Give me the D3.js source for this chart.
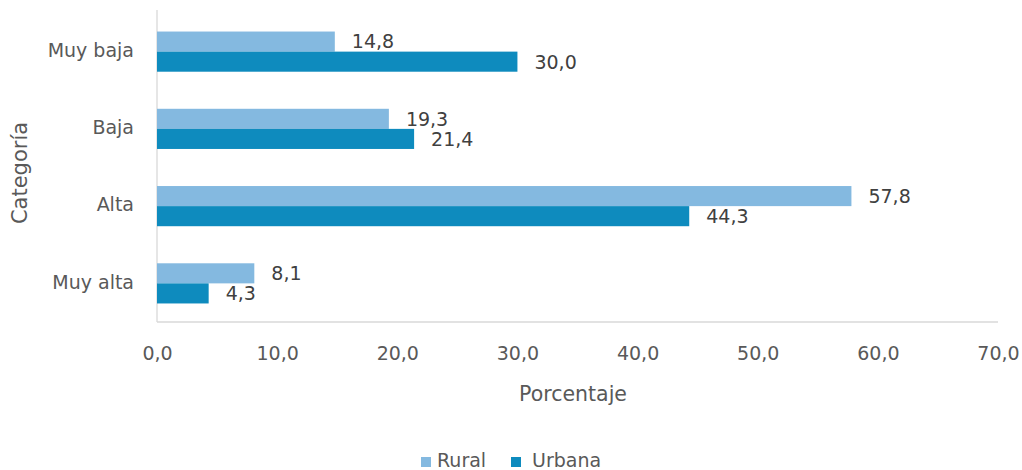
<!DOCTYPE html>
<html>
<head>
<meta charset="utf-8">
<script src="https://cdn.jsdelivr.net/npm/d3@7"></script>
<style>
  html, body { margin: 0; padding: 0; background: #fff; }
  svg { display: block; font-family: "DejaVu Sans", sans-serif; }
</style>
</head>
<body>
<svg id="chart" width="1022" height="470"></svg>
<script>
// Data
const categories = ["Muy baja", "Baja", "Alta", "Muy alta"];
const seriesNames = ["Rural", "Urbana"];
const rural = [14.8, 19.3, 57.8, 8.1];
const urbana = [30.0, 21.4, 44.3, 4.3];
const xTicks = [0, 10, 20, 30, 40, 50, 60, 70];

const colors = { Rural: "#84b9e0", Urbana: "#0e8bbe" };
const textColor = "#595959";
const fontSize = 19;
const fmt = v => d3.format(".1f")(v).replace(".", ",");

const svg = d3.select("#chart");
const plotTop = 13, plotBottom = 322;

const x = d3.scaleLinear().domain([0, 70]).range([157, 998]);
const y = d3.scaleBand().domain(categories).range([plotTop, plotBottom]).paddingInner(0.48).paddingOuter(0.24);
const ySub = d3.scaleBand().domain(seriesNames).range([0, y.bandwidth()]);

// Axis lines
svg.append("line")
  .attr("x1", x(0)).attr("x2", x(0))
  .attr("y1", plotTop - 3).attr("y2", plotBottom)
  .attr("stroke", "#d9d9d9").attr("stroke-width", 1.3);
svg.append("line")
  .attr("x1", x(0)).attr("x2", x(70))
  .attr("y1", plotBottom).attr("y2", plotBottom)
  .attr("stroke", "#d9d9d9").attr("stroke-width", 1.3);

// X tick labels
const xAxis = d3.axisBottom(x).tickValues(xTicks).tickFormat(fmt).tickSize(0).tickPadding(0);
const gx = svg.append("g").attr("transform", "translate(0,360)").call(xAxis);
gx.select(".domain").remove();
gx.selectAll("text").attr("font-size", fontSize).attr("fill", textColor).attr("dy", 0)
  .attr("font-family", "'DejaVu Sans', sans-serif");

// Y tick labels
const yAxis = d3.axisLeft(y).tickSize(0).tickPadding(0);
const gy = svg.append("g").attr("transform", "translate(134,0)").call(yAxis);
gy.select(".domain").remove();
gy.selectAll("text").attr("font-size", fontSize).attr("fill", textColor).attr("dy", "0.27em")
  .attr("font-family", "'DejaVu Sans', sans-serif");

// Bars with value labels
const seriesData = { Rural: rural, Urbana: urbana };
seriesNames.forEach(s => {
  const g = svg.append("g");
  g.selectAll("rect").data(categories).join("rect")
    .attr("x", x(0))
    .attr("y", c => y(c) + ySub(s))
    .attr("width", (c, i) => x(seriesData[s][i]) - x(0))
    .attr("height", ySub.bandwidth())
    .attr("fill", colors[s]);
  g.selectAll("text").data(categories).join("text")
    .attr("x", (c, i) => x(seriesData[s][i]) + 17)
    .attr("y", c => y(c) + ySub(s) + ySub.bandwidth() / 2)
    .attr("dy", "0.36em")
    .attr("font-size", fontSize)
    .attr("fill", "#404040")
    .text((c, i) => fmt(seriesData[s][i]));
});

// Axis titles
svg.append("text")
  .attr("x", 573).attr("y", 401)
  .attr("text-anchor", "middle").attr("font-size", 20.5).attr("fill", textColor)
  .text("Porcentaje");
svg.append("text")
  .attr("transform", "translate(27,173) rotate(-90)")
  .attr("text-anchor", "middle").attr("font-size", 21).attr("fill", textColor)
  .text("Categoría");

// Legend
const legend = svg.append("g");
const items = [{ n: "Rural", sx: 421, tx: 437 }, { n: "Urbana", sx: 511, tx: 532 }];
items.forEach(it => {
  legend.append("rect").attr("x", it.sx).attr("y", 457).attr("width", 10).attr("height", 10)
    .attr("fill", colors[it.n]);
  legend.append("text").attr("x", it.tx).attr("y", 467)
    .attr("font-size", fontSize).attr("fill", textColor).text(it.n);
});
</script>
</body>
</html>
